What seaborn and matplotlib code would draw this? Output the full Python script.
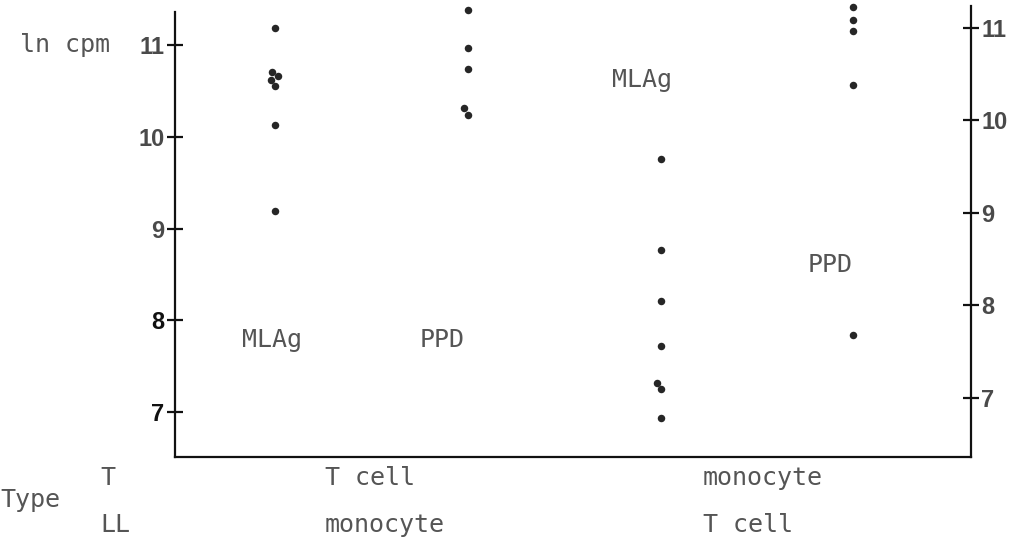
import pandas as pd
import numpy as np
import matplotlib
matplotlib.use('Agg')
import matplotlib.pyplot as plt
import seaborn as sns

# Categories along x (stimulus / cell arrangement)
groups = ['MLAg_1', 'PPD_1', 'MLAg_2', 'PPD_2']
group_labels = ['MLAg', 'PPD', 'MLAg', 'PPD']

# ln cpm values
# left half -> left scale, right half -> right scale
mlag_tcell = [11.19, 10.71, 10.66, 10.62, 10.55, 10.13, 9.19]
ppd_tcell = [11.38, 10.97, 10.74, 10.31, 10.24]
mlag_mono = [9.58, 8.60, 8.05, 7.56, 7.16, 7.09, 6.78]
ppd_mono = [11.22, 11.08, 10.97, 10.38, 7.68]

yticks = [7, 8, 9, 10, 11]

left_df = pd.DataFrame({
    'group': ['MLAg_1'] * len(mlag_tcell) + ['PPD_1'] * len(ppd_tcell),
    'lncpm': mlag_tcell + ppd_tcell,
})
right_df = pd.DataFrame({
    'group': ['MLAg_2'] * len(mlag_mono) + ['PPD_2'] * len(ppd_mono),
    'lncpm': mlag_mono + ppd_mono,
})

sns.set_style('white')
mono = ['DejaVu Sans Mono']
tick_font = ['Liberation Sans Narrow', 'Liberation Sans', 'DejaVu Sans']
txt_col = '#555555'

fig = plt.figure(figsize=(10.17, 5.43), dpi=100)
ax = fig.add_axes([175 / 1017, 86 / 543, 796 / 1017, 445 / 543])
ax2 = ax.twinx()

sns.swarmplot(data=left_df, x='group', y='lncpm', order=groups, ax=ax,
              color='#262626', size=5.4)
sns.swarmplot(data=right_df, x='group', y='lncpm', order=groups, ax=ax2,
              color='#262626', size=5.4)

for a in (ax, ax2):
    a.set_xlim(-0.52, 3.61)
    a.set_xticks([])
    a.set_xlabel('')
    a.set_ylabel('')
    for s in a.spines.values():
        s.set_visible(False)
    a.set_yticks(yticks)
    a.grid(False)
    for c in a.collections:
        c.set_clip_on(False)

ax.set_ylim(6.51, 11.36)
ax2.set_ylim(6.36, 11.17)

ax.spines['left'].set_visible(True)
ax.spines['bottom'].set_visible(True)
ax2.spines['right'].set_visible(True)
for s in (ax.spines['left'], ax.spines['bottom'], ax2.spines['right']):
    s.set_color('#111111')
    s.set_linewidth(1.6)
ax2.spines['right'].set_bounds(6.36, 11.23)

ax.tick_params(axis='y', direction='inout', length=11, width=1.6,
               color='#111111', pad=2, left=True)
ax2.tick_params(axis='y', direction='inout', length=11, width=1.6,
                color='#111111', pad=2, right=True)
for a in (ax, ax2):
    for lab in a.get_yticklabels():
        lab.set_family(tick_font)
        lab.set_fontsize(17)
        lab.set_fontweight('bold')
        lab.set_color('#4a4a4a')
# the two lowest labels on the left are printed darker
for lab in ax.get_yticklabels()[:2]:
    lab.set_color('#111111')

# in-plot labels
def ftext(x, y, s, **kw):
    fig.text(x / 1017, 1 - y / 543, s, family=mono, fontsize=18,
             color=txt_col, va='center', **kw)

ftext(20, 45, 'ln cpm')
ftext(242, 340, group_labels[0])
ftext(420, 340, group_labels[1])
ftext(612, 80, group_labels[2])
ftext(808, 265, group_labels[3])

# type rows under the axis
ftext(0, 500, 'Type')
ftext(100, 478, 'T')
ftext(100, 525, 'LL')
ftext(325, 478, 'T cell')
ftext(325, 525, 'monocyte')
ftext(703, 478, 'monocyte')
ftext(703, 525, 'T cell')

fig.savefig('out.png', dpi=100)
